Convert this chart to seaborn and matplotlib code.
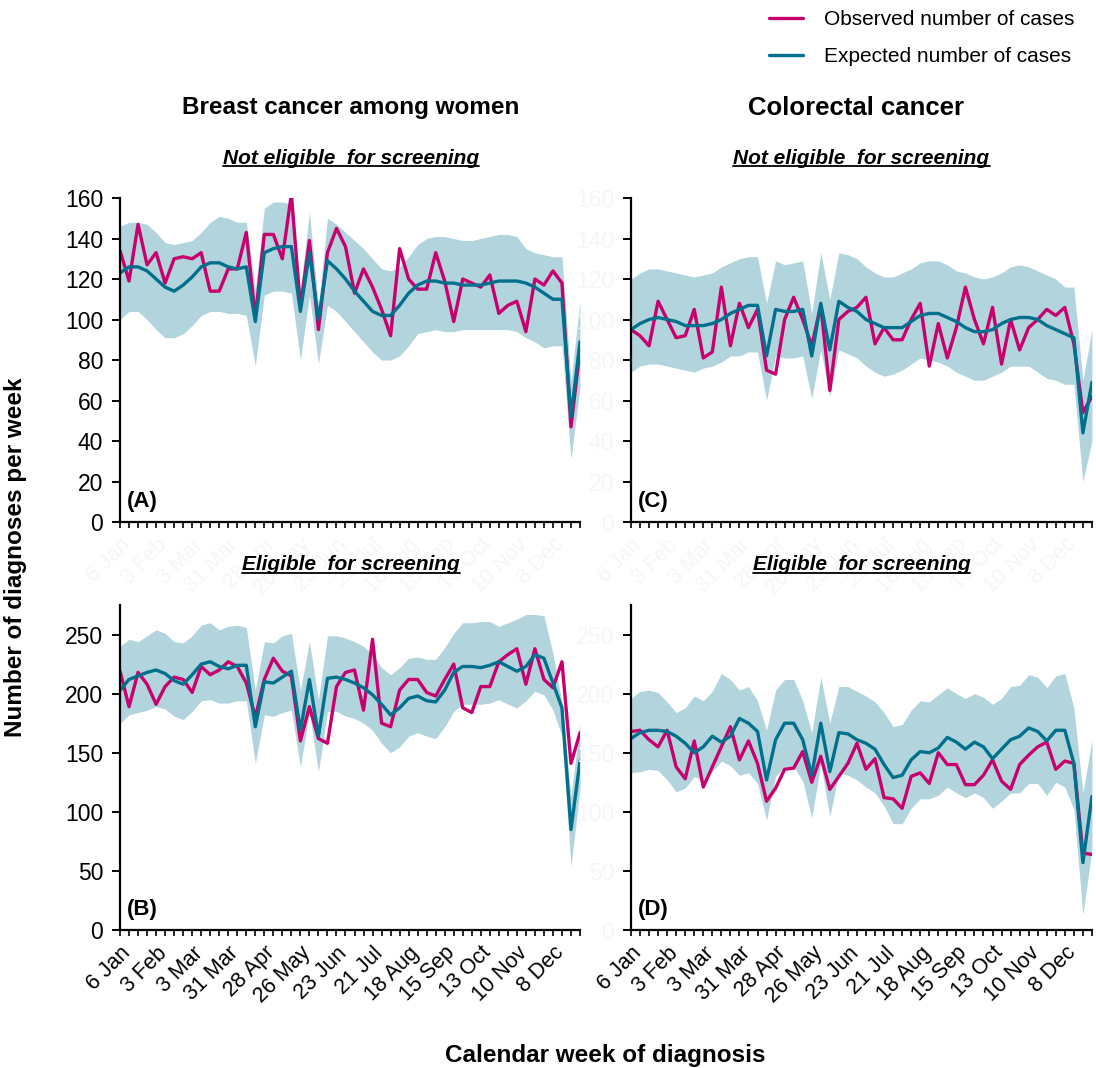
import matplotlib.pyplot as plt
import pandas as pd
import seaborn as sns
from matplotlib.lines import Line2D

weeks = list(range(52))
tick_weeks = list(range(0, 52, 4))
week_labels = ['6 Jan', '3 Feb', '3 Mar', '31 Mar', '28 Apr', '26 May', '23 Jun',
               '21 Jul', '18 Aug', '15 Sep', '13 Oct', '10 Nov', '8 Dec']

# (A) breast cancer, not eligible for screening
a_obs = [134, 119, 147, 127, 133, 118, 130, 131, 130, 133, 114, 114, 125, 125, 143, 101,
         142, 142, 130, 162, 106, 139, 95, 133, 145, 136, 113, 125, 116, 105, 92, 135,
         120, 115, 115, 133, 119, 99, 120, 118, 116, 122, 103, 107, 109, 94, 120, 117,
         124, 118, 47, 85]
a_exp = [123, 126, 126, 124, 120, 116, 114, 117, 121, 126, 128, 128, 126, 125, 126, 99,
         133, 135, 136, 136, 104, 133, 100, 129, 125, 120, 114, 109, 104, 102, 102, 107,
         113, 117, 119, 119, 118, 118, 117, 117, 117, 118, 119, 119, 119, 118, 116, 113,
         110, 110, 52, 89]
a_lo = [100, 104, 104, 100, 95, 91, 91, 93, 97, 102, 104, 104, 103, 103, 102, 77,
        112, 114, 114, 113, 80, 112, 78, 107, 104, 99, 94, 89, 84, 80, 80, 82,
        87, 93, 94, 95, 94, 94, 95, 95, 95, 95, 95, 95, 94, 91, 89, 86,
        87, 87, 31, 67]
a_hi = [146, 148, 148, 147, 143, 138, 137, 138, 139, 143, 148, 151, 150, 148, 148, 115,
        155, 158, 158, 157, 115, 153, 107, 150, 147, 143, 139, 135, 130, 125, 124, 126,
        131, 137, 140, 141, 141, 140, 139, 139, 140, 141, 142, 142, 141, 135, 133, 132,
        131, 131, 70, 109]

# (B) breast cancer, eligible for screening
b_obs = [219, 189, 218, 208, 191, 206, 214, 212, 201, 223, 216, 220, 227, 223, 209, 180,
         212, 230, 219, 215, 160, 189, 162, 158, 206, 218, 220, 186, 246, 175, 172, 203,
         212, 212, 201, 198, 212, 225, 188, 184, 206, 206, 227, 233, 238, 208, 238, 212,
         205, 227, 141, 167]
b_exp = [203, 212, 215, 218, 220, 217, 211, 208, 216, 225, 227, 223, 221, 224, 224, 172,
         210, 209, 214, 219, 169, 212, 164, 213, 214, 212, 209, 205, 199, 191, 182, 188,
         196, 198, 194, 193, 203, 218, 223, 223, 222, 224, 227, 223, 219, 223, 233, 230,
         209, 188, 85, 143]
b_lo = [175, 182, 184, 186, 189, 187, 181, 178, 185, 194, 195, 192, 192, 194, 194, 141,
        182, 181, 184, 186, 138, 184, 134, 185, 185, 181, 179, 175, 169, 158, 150, 155,
        164, 167, 164, 162, 172, 185, 191, 191, 191, 192, 195, 191, 188, 194, 202, 199,
        186, 164, 54, 119]
b_hi = [240, 246, 244, 249, 254, 251, 244, 243, 249, 258, 260, 254, 257, 258, 256, 203,
        244, 243, 249, 251, 203, 244, 195, 249, 249, 247, 244, 240, 233, 222, 216, 222,
        230, 231, 229, 229, 239, 251, 260, 260, 261, 261, 257, 260, 263, 267, 267, 266,
        234, 192, 113, 175]

# (C) colorectal cancer, not eligible for screening
c_obs = [95, 92, 87, 109, 100, 91, 92, 105, 81, 84, 116, 87, 108, 96, 105, 75,
         73, 100, 111, 100, 87, 107, 65, 100, 104, 106, 111, 88, 96, 90, 90, 100,
         108, 77, 98, 81, 96, 116, 100, 88, 106, 78, 100, 85, 96, 100, 105, 102,
         106, 88, 54, 62]
c_exp = [95, 98, 100, 101, 100, 99, 97, 97, 97, 98, 100, 103, 105, 107, 107, 82,
         105, 104, 104, 105, 82, 108, 85, 109, 106, 104, 100, 98, 96, 96, 96, 99,
         102, 103, 103, 101, 99, 96, 94, 94, 95, 98, 100, 101, 101, 100, 97, 95,
         93, 91, 44, 69]
c_lo = [74, 77, 78, 78, 77, 76, 75, 74, 76, 77, 79, 82, 82, 84, 84, 60,
        82, 81, 81, 82, 61, 85, 62, 85, 83, 81, 77, 74, 72, 73, 75, 78,
        81, 80, 79, 77, 74, 72, 70, 70, 72, 74, 77, 77, 77, 74, 71, 70,
        68, 68, 20, 40]
c_hi = [120, 123, 125, 125, 124, 123, 122, 121, 122, 123, 126, 128, 130, 131, 131, 108,
        129, 127, 128, 129, 103, 133, 110, 133, 132, 130, 126, 123, 121, 121, 123, 125,
        128, 129, 129, 127, 124, 123, 121, 120, 121, 123, 126, 127, 126, 124, 122, 120,
        116, 116, 70, 95]

# (D) colorectal cancer, eligible for screening
d_obs = [168, 169, 161, 155, 169, 138, 128, 160, 121, 138, 155, 172, 144, 160, 141, 109,
         120, 136, 137, 151, 125, 147, 119, 130, 141, 158, 136, 145, 112, 111, 103, 130,
         133, 124, 150, 140, 140, 123, 123, 131, 144, 126, 119, 140, 148, 155, 159, 136,
         143, 141, 65, 64]
d_exp = [162, 167, 169, 169, 168, 164, 158, 150, 155, 164, 159, 164, 179, 175, 168, 127,
         161, 175, 175, 161, 131, 175, 134, 167, 166, 161, 158, 153, 140, 129, 131, 144,
         151, 150, 154, 163, 159, 153, 159, 155, 145, 153, 161, 164, 171, 168, 160, 169,
         169, 141, 57, 113]
d_lo = [133, 134, 136, 135, 127, 117, 120, 130, 126, 134, 143, 139, 131, 133, 124, 93,
        130, 138, 138, 126, 95, 140, 96, 133, 131, 127, 121, 116, 105, 90, 90, 103,
        111, 111, 114, 121, 116, 112, 116, 112, 103, 109, 116, 116, 124, 124, 114, 125,
        121, 102, 13, 68]
d_hi = [196, 202, 203, 201, 193, 184, 188, 198, 194, 202, 217, 212, 203, 206, 194, 169,
        203, 212, 212, 194, 167, 214, 175, 206, 206, 202, 198, 193, 184, 172, 174, 186,
        194, 193, 199, 205, 200, 196, 200, 197, 191, 196, 206, 207, 216, 214, 205, 215,
        217, 188, 116, 161]

OBS_COLOR = '#C8006E'
EXP_COLOR = '#00708C'
BAND_COLOR = '#B2D4DD'
GHOST = '#f6f6f6'

sns.set_theme(style='ticks')
plt.rcParams['font.family'] = ['Liberation Sans', 'DejaVu Sans']
plt.rcParams['text.color'] = 'black'
plt.rcParams['xtick.color'] = 'black'
plt.rcParams['ytick.color'] = 'black'

fig = plt.figure(figsize=(10.96, 10.68), dpi=100)


def draw_panel(rect, obs, exp, lo, hi, ymax, yticks, letter, show_x, show_y):
    ax = fig.add_axes(rect)
    df = pd.DataFrame({'week': weeks,
                       'Observed number of cases': obs,
                       'Expected number of cases': exp})
    df = df.melt(id_vars='week', var_name='series', value_name='cases')
    ax.fill_between(weeks, lo, hi, color=BAND_COLOR, lw=0)
    sns.lineplot(data=df, x='week', y='cases', hue='series',
                 palette={'Observed number of cases': OBS_COLOR,
                          'Expected number of cases': EXP_COLOR},
                 lw=2.4, ax=ax, legend=False)
    ax.set_xlim(0, 51)
    ax.set_ylim(0, ymax)
    ax.set_yticks(yticks)
    ax.set_xticks(tick_weeks)
    ax.set_xticks(weeks, minor=True)
    ax.set_xticklabels(week_labels, rotation=45, ha='right', rotation_mode='anchor',
                       fontsize=15.5, color='black' if show_x else GHOST)
    for lab in ax.get_yticklabels():
        lab.set_fontsize(16.5)
        lab.set_color('black' if show_y else GHOST)
    ax.set_xlabel('')
    ax.set_ylabel('')
    sns.despine(ax=ax)
    for s in ['left', 'bottom']:
        ax.spines[s].set_linewidth(1.6)
        ax.spines[s].set_color('black')
    ax.tick_params(axis='y', length=6, width=1.4, pad=6)
    ax.tick_params(axis='x', which='both', length=4, width=1.2, pad=5)
    ax.text(0.015, 0.03, letter, transform=ax.transAxes, fontsize=16,
            fontweight='bold', ha='left', va='bottom')
    ax.set_facecolor('white')
    return ax


draw_panel([0.1095, 0.5112, 0.4197, 0.3034], a_obs, a_exp, a_lo, a_hi, 160,
           range(0, 161, 20), '(A)', False, True)
draw_panel([0.5757, 0.5112, 0.4206, 0.3034], c_obs, c_exp, c_lo, c_hi, 160,
           range(0, 161, 20), '(C)', False, False)
draw_panel([0.1095, 0.1292, 0.4197, 0.3043], b_obs, b_exp, b_lo, b_hi, 275,
           range(0, 251, 50), '(B)', True, True)
draw_panel([0.5757, 0.1292, 0.4206, 0.3043], d_obs, d_exp, d_lo, d_hi, 275,
           range(0, 251, 50), '(D)', True, False)

fig.text(0.320, 0.899, 'Breast cancer among women', ha='center', va='center',
         fontsize=17.5, fontweight='bold')
fig.text(0.781, 0.899, 'Colorectal cancer', ha='center', va='center',
         fontsize=18.5, fontweight='bold')

subs = []
for x, y, s in [(0.320, 0.852, 'Not eligible  for screening'),
                (0.786, 0.852, 'Not eligible  for screening'),
                (0.320, 0.471, 'Eligible  for screening'),
                (0.786, 0.471, 'Eligible  for screening')]:
    subs.append(fig.text(x, y, s, ha='center', va='center', fontsize=15,
                         fontweight='bold', fontstyle='italic'))

fig.text(0.014, 0.478, 'Number of diagnoses per week', rotation=90, ha='center',
         va='center', fontsize=17.5, fontweight='bold')
fig.text(0.552, 0.012, 'Calendar week of diagnosis', ha='center', va='center',
         fontsize=17.5, fontweight='bold')

handles = [Line2D([], [], color=OBS_COLOR, lw=2.4),
           Line2D([], [], color=EXP_COLOR, lw=2.4)]
fig.legend(handles, ['Observed number of cases', 'Expected number of cases'],
           loc='upper right', bbox_to_anchor=(0.997, 1.008), frameon=False,
           fontsize=15, handlelength=1.6, handletextpad=1.0, labelspacing=0.85)

# underline the subtitles
fig.canvas.draw()
renderer = fig.canvas.get_renderer()
for t in subs:
    bb = t.get_window_extent(renderer).transformed(fig.transFigure.inverted())
    fig.add_artist(Line2D([bb.x0, bb.x1], [bb.y0 + 0.001, bb.y0 + 0.001],
                          transform=fig.transFigure, color='black', lw=1.3))

fig.savefig('out.png', dpi=100, facecolor='white')
